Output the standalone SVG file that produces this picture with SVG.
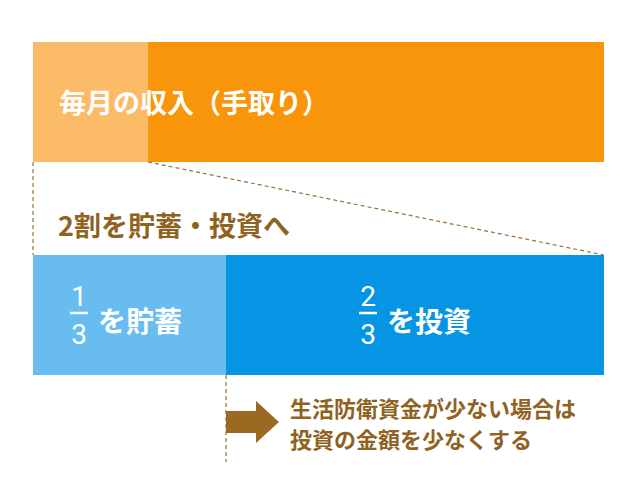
<svg xmlns="http://www.w3.org/2000/svg" width="640" height="487" viewBox="0 0 640 487">
<style>
.w{fill:#fff;font-family:"Noto Sans CJK JP","Noto Sans",sans-serif;font-weight:bold}
.b{fill:#8f6222;font-family:"Noto Sans CJK JP","Noto Sans",sans-serif;font-weight:bold}
.d{stroke:#9a7040;stroke-width:1.2;stroke-dasharray:4 3;fill:none}
.n{fill:#fff;font-family:"Roboto","Noto Sans",sans-serif;font-size:28px;text-anchor:middle}
</style>
<rect width="640" height="487" fill="#fff"/>
<g id="income">
<rect x="33" y="42" width="571" height="120" fill="#f8950b"/>
<rect x="33" y="42" width="115" height="120" fill="#fbbb66"/>
<text class="w" x="59" y="113" font-size="27">毎月の収入（手取り）</text>
</g>
<g id="connectors">
<path class="d" d="M33 162V255M148 162L604 255M226 375V462"/>
</g>
<text class="b" x="58" y="236" font-size="27">2割を貯蓄・投資へ</text>
<g id="savings">
<rect x="33" y="255" width="193" height="120" fill="#68bcef"/>
<text class="n" x="79" y="306">1</text>
<line x1="70" y1="313" x2="88" y2="313" stroke="#fff" stroke-width="2.5"/>
<text class="n" x="79" y="344">3</text>
<text class="w" x="98" y="332" font-size="28">を貯蓄</text>
</g>
<g id="invest">
<rect x="226" y="255" width="378" height="120" fill="#0595e4"/>
<text class="n" x="368" y="306">2</text>
<line x1="359" y1="313" x2="377" y2="313" stroke="#fff" stroke-width="2.5"/>
<text class="n" x="368" y="344">3</text>
<text class="w" x="387" y="332" font-size="28">を投資</text>
</g>
<g id="note">
<path d="M226 411H256V401L279 422L256 443V433H226Z" fill="#9a6a22"/>
<text class="b" x="290" y="417" font-size="22">生活防衛資金が少ない場合は</text>
<text class="b" x="290" y="448" font-size="22">投資の金額を少なくする</text>
</g>
</svg>
